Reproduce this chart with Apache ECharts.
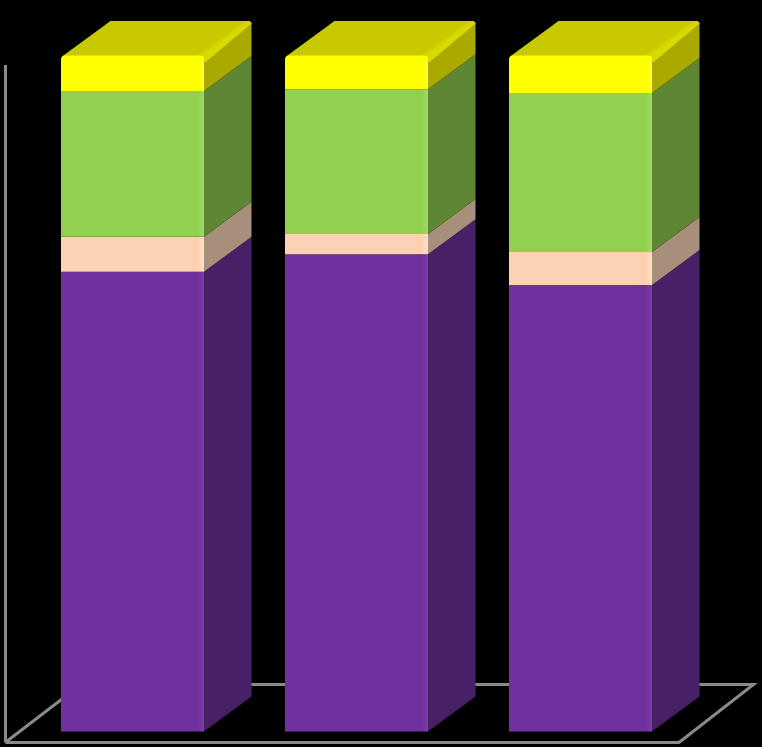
<!DOCTYPE html>
<html>
<head>
<meta charset="utf-8">
<style>html,body{margin:0;padding:0;background:#000;}#c{width:762px;height:747px;}</style>
<script src="https://cdn.jsdelivr.net/npm/echarts@6/dist/echarts.min.js"></script>
</head>
<body>
<div id="c"></div>
<script>
const categories = ['A', 'B', 'C'];
const purple = [68.0, 70.6, 66.05];
const peach  = [5.2, 3.0, 4.9];
const green  = [21.55, 21.4, 23.5];
const yellow = [5.25, 5.0, 5.55];

const seriesList = [
  {name: 'Purple', values: purple, front: '#7030A0', edge: '#7A3AA8', side: '#472066'},
  {name: 'Peach',  values: peach,  front: '#FDD2B2', edge: '#FFDCC2', side: '#A68F7B'},
  {name: 'Green',  values: green,  front: '#92D050', edge: '#A0D864', side: '#5F8733'},
  {name: 'Yellow', values: yellow, front: '#FFFF00', edge: '#FFFF20', side: '#A9A900', top: '#C9C900', topEdge: '#DADA00'}
];

const BAR_RATIO = 143 / 224, DEPTH_X = 47.5, DEPTH_Y = -35;
const FRAME = '#8A8A8A';

function renderBar(params, api) {
  const cat = api.value(0), lo = api.value(1), hi = api.value(2);
  const s = seriesList[params.seriesIndex - 1];
  const band = api.size([1, 0])[0];
  const w = band * BAR_RATIO;
  const pLo = api.coord([cat, lo]), pHi = api.coord([cat, hi]);
  const xl = pLo[0] - w / 2, xr = pLo[0] + w / 2, yb = pLo[1], yt = pHi[1];
  const children = [];
  const isTop = !!s.top;
  // side face
  children.push({type: 'polygon', silent: true,
    shape: {points: [[xr, yt], [xr + DEPTH_X, yt + DEPTH_Y + (isTop ? 2 : 0)], [xr + DEPTH_X, yb + DEPTH_Y], [xr, yb]]},
    style: {fill: s.side}});
  if (isTop) {
    // top face
    children.push({type: 'polygon', silent: true,
      shape: {points: [[xl + 1, yt + 1], [xl + DEPTH_X + 2, yt + DEPTH_Y + 0.5], [xr + DEPTH_X - 2, yt + DEPTH_Y + 0.5], [xr + DEPTH_X, yt + DEPTH_Y + 3], [xr, yt + 5]]},
      style: {fill: s.top}});
    // lit bevel along the top face's right edge, fading inward
    const mx = xr + DEPTH_X / 2, my = yt + DEPTH_Y / 2 + 4;
    children.push({type: 'polygon', silent: true,
      shape: {points: [[xr - 7, yt], [xr + DEPTH_X - 8, yt + DEPTH_Y + 0.5], [xr + DEPTH_X - 2, yt + DEPTH_Y + 0.5], [xr + DEPTH_X, yt + DEPTH_Y + 3], [xr + 1, yt + 7]]},
      style: {fill: {type: 'linear', global: true,
        x: mx - 5, y: my - 7, x2: mx, y2: my,
        colorStops: [{offset: 0, color: s.top}, {offset: 0.75, color: s.topEdge}, {offset: 1, color: s.topEdge}]}}});
  }
  // front face with a thin lit edge on the right
  children.push({type: 'rect', silent: true,
    shape: {x: xl, y: yt, width: w, height: yb - yt, r: isTop ? [4, 4, 0, 0] : 0},
    style: {fill: {type: 'linear', x: 0, y: 0, x2: 1, y2: 0, colorStops: [
      {offset: 0, color: s.front}, {offset: 0.96, color: s.front},
      {offset: 0.99, color: s.edge}, {offset: 1, color: s.edge}]}}});
  return {type: 'group', children};
}

function renderFrame(params, api) {
  const origin = api.coord([0, 0]);
  const band = api.size([1, 0])[0];
  const left = origin[0] - band / 2 - 15;          // wall line
  const fy = origin[1] + 11;                       // front floor edge
  const by = origin[1] - 47;                       // back floor edge
  const wallTop = api.coord([0, 98.6])[1];
  const fl = left + 1, fr = api.coord([2, 0])[0] + 98.5, shift = 74.5;
  const line = pts => ({type: 'polyline', silent: true, shape: {points: pts},
    style: {stroke: FRAME, lineWidth: 3, fill: null}});
  return {type: 'group', children: [
    line([[left, wallTop], [left, fy]]),
    line([[left, fy], [fr, fy], [fr + shift, by], [fl + shift, by], [fl, fy - 1]])
  ]};
}

const series = [{
  type: 'custom', silent: true, z: 1, clip: false, animation: false,
  data: [[0, 0]], renderItem: renderFrame, encode: {x: 0, y: 1}
}];
const base = categories.map(() => 0);
seriesList.forEach((s) => {
  const data = s.values.map((v, i) => {
    const item = [i, base[i], base[i] + v];
    base[i] += v;
    return item;
  });
  series.push({
    type: 'custom', name: s.name, z: 2, clip: false, animation: false,
    data, renderItem: renderBar, encode: {x: 0, y: [1, 2]}
  });
});

const chart = echarts.init(document.getElementById('c'), null, {renderer: 'canvas'});
chart.setOption({
  backgroundColor: '#000000',
  animation: false,
  grid: {left: 20.5, top: 55.5, width: 672, height: 676},
  xAxis: {type: 'category', data: categories, show: false},
  yAxis: {type: 'value', min: 0, max: 100, interval: 20, show: false},
  series
});
</script>
</body>
</html>
